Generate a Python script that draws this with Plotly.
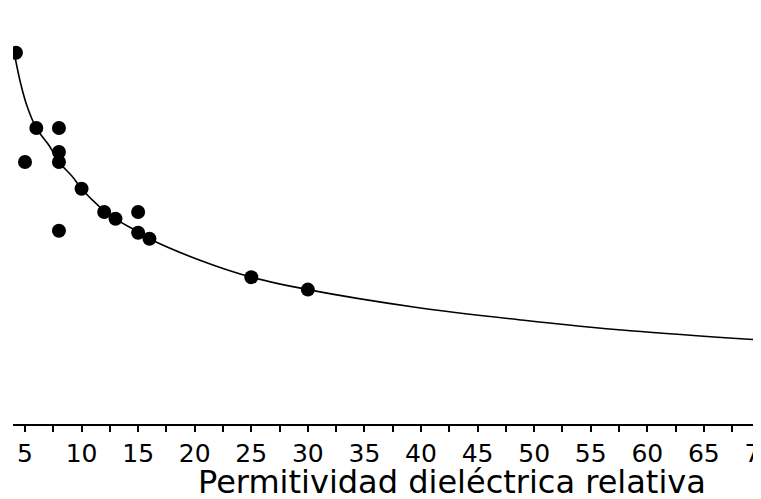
import plotly.graph_objects as go

point_x = [4.2, 6, 8, 5, 8, 8, 10, 12, 13, 15, 8, 15, 16, 25, 30]
point_y = [9.28, 7.40, 7.40, 6.55, 6.80, 6.55, 5.88, 5.30, 5.13, 5.30, 4.83, 4.78, 4.63, 3.67, 3.36]

# Fitted curve
curve_x = [4.0, 4.6, 5.2, 6, 7.2, 8, 9.2, 10, 11.6, 13, 15, 16, 20.4, 25, 30, 39.5, 48.9, 58.5, 70]
curve_y = [9.35, 8.53, 7.93, 7.40, 6.93, 6.55, 6.18, 5.88, 5.43, 5.13, 4.80, 4.63, 4.10, 3.67, 3.36, 2.92, 2.60, 2.33, 2.10]

x_ticks = [5, 10, 15, 20, 25, 30, 35, 40, 45, 50, 55, 60, 65, 70]
x_title = "Permitividad dieléctrica relativa"

fig = go.Figure()
fig.add_trace(go.Scatter(x=curve_x, y=curve_y, mode="lines",
                         line=dict(color="black", width=1.6, shape="spline", smoothing=1.0),
                         hoverinfo="skip", showlegend=False))
fig.add_trace(go.Scatter(x=point_x, y=point_y, mode="markers",
                         marker=dict(color="black", size=14, line=dict(width=0)),
                         showlegend=False))

fig.update_layout(
    width=753, height=491,
    margin=dict(l=5, r=0, t=0, b=75, autoexpand=False),
    paper_bgcolor="white", plot_bgcolor="white",
    font=dict(family="DejaVu Sans", color="black"),
    xaxis=dict(range=[3.94, 70.05], tickvals=x_ticks, ticktext=[str(v) for v in x_ticks],
               ticks="outside", ticklen=6, tickwidth=2, tickcolor="black",
               ticklabeloverflow="allow", automargin=False,
               showline=True, linecolor="black", linewidth=1.5,
               showgrid=False, zeroline=False,
               tickfont=dict(family="DejaVu Sans", size=25, color="black"),
               minor=dict(tickvals=[v + 2.5 for v in x_ticks[:-1]], ticks="outside",
                          ticklen=6, tickwidth=1.5, tickcolor="black", showgrid=False)),
    yaxis=dict(range=[0, 10.4], visible=False, showgrid=False, zeroline=False),
    annotations=[dict(text=x_title, xref="paper", yref="paper", x=0.587, y=-0.139,
                      xanchor="center", yanchor="middle", showarrow=False,
                      font=dict(family="DejaVu Sans", size=32, color="black"))],
)

fig.write_html("out.html")
